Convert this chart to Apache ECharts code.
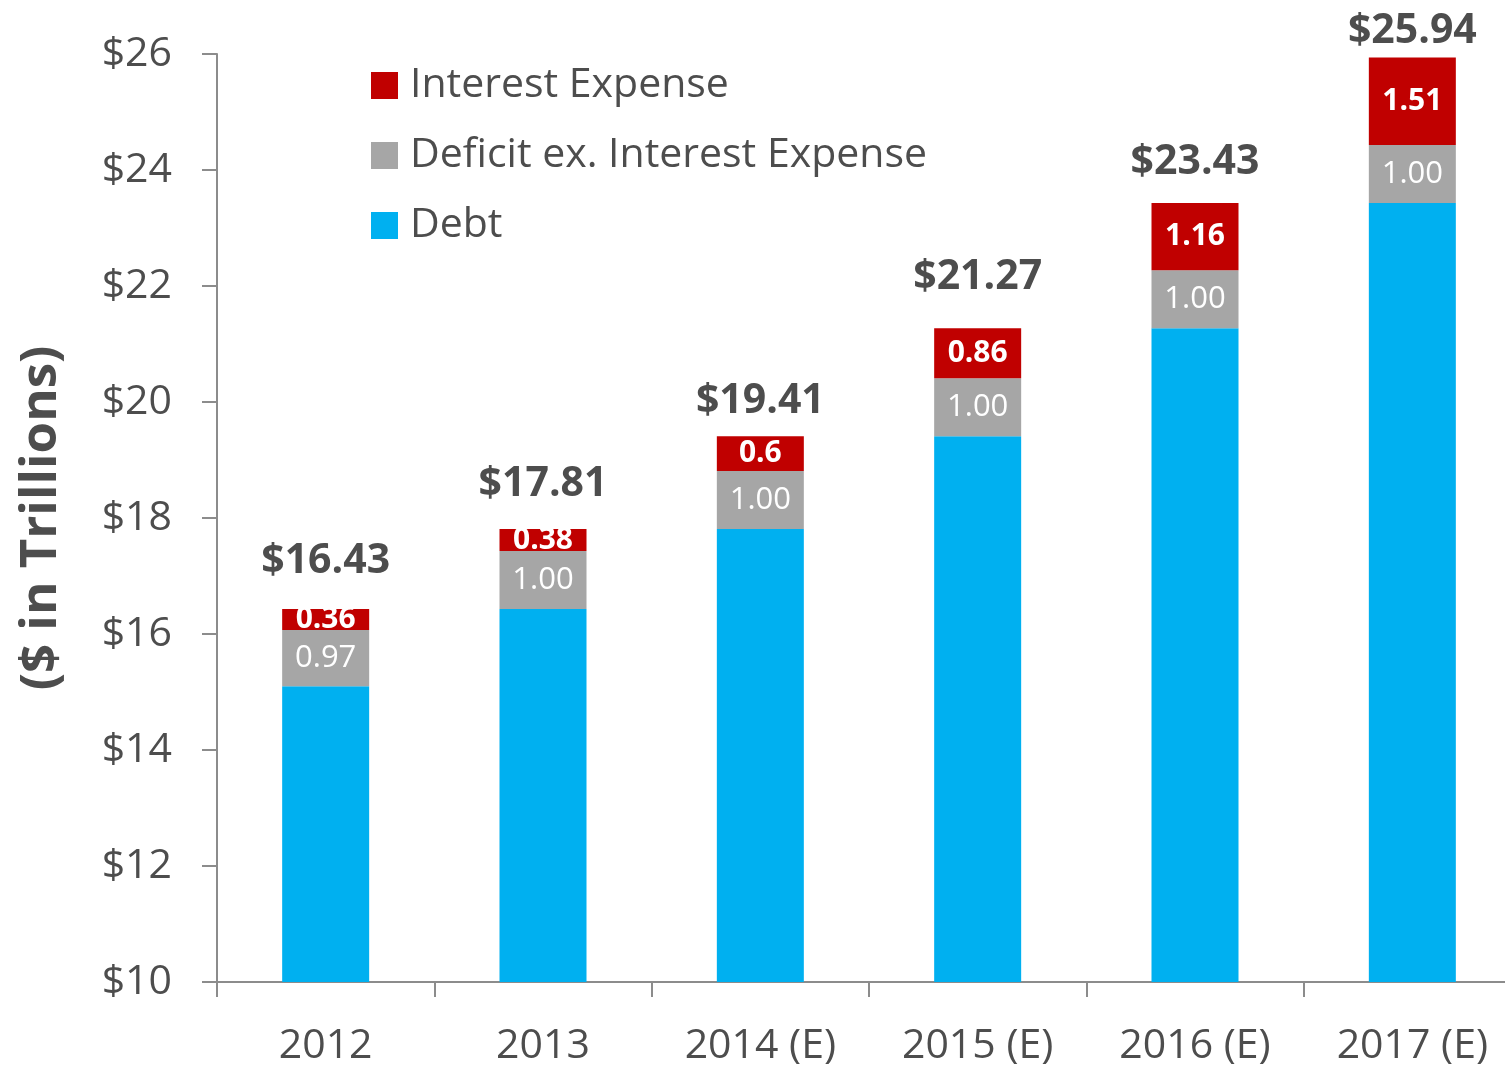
<!DOCTYPE html>
<html>
<head>
<meta charset="utf-8">
<script src="https://cdn.jsdelivr.net/npm/echarts@6/dist/echarts.min.js"></script>
<style>
html,body{margin:0;padding:0;background:#fff;}
#chart{width:1505px;height:1069px;}
</style>
</head>
<body>
<div id="chart"></div>
<script>
// ---- data ----
const categories = ['2012', '2013', '2014 (E)', '2015 (E)', '2016 (E)', '2017 (E)'];
const debt = [15.10, 16.43, 17.81, 19.41, 21.27, 23.43];
const deficitExInterest = [0.97, 1.00, 1.00, 1.00, 1.00, 1.00];
const interestExpense = [0.36, 0.38, 0.6, 0.86, 1.16, 1.51];
const totals = [16.43, 17.81, 19.41, 21.27, 23.43, 25.94];
const yTicks = [10, 12, 14, 16, 18, 20, 22, 24, 26];

// ---- styling (not data) ----
const totalLabelLift = [27, 24, 14, 31, 20, 6];
const FONT = '"Open Sans", sans-serif';
const TXT = '#4d4d4d';

const chart = echarts.init(document.getElementById('chart'));
chart.setOption({
  animation: false,
  grid: { left: 217, top: 54, bottom: 87, right: -16, containLabel: false, outerBoundsMode: 'none' },
  legend: {
    orient: 'vertical',
    left: 371,
    top: 65,
    padding: 0,
    itemWidth: 27,
    itemHeight: 27,
    itemGap: 29,
    icon: 'rect',
    data: ['Interest Expense', 'Deficit ex. Interest Expense', 'Debt'],
    textStyle: { fontFamily: FONT, fontSize: 41, color: TXT, lineHeight: 41, padding: [0, 0, 0, 7] }
  },
  xAxis: {
    type: 'category',
    data: categories,
    axisLine: { lineStyle: { color: '#8c8c8c', width: 2 } },
    axisTick: { show: true, length: 15, lineStyle: { color: '#8c8c8c', width: 2 } },
    axisLabel: { fontFamily: FONT, fontSize: 41, color: TXT, margin: 44 }
  },
  yAxis: {
    type: 'value',
    min: yTicks[0],
    max: yTicks[yTicks.length - 1],
    interval: 2,
    name: '($ in Trillions)',
    nameLocation: 'middle',
    nameGap: 150,
    nameTextStyle: { fontFamily: FONT, fontSize: 51, fontWeight: 'bold', color: TXT },
    splitLine: { show: false },
    axisLine: { show: true, lineStyle: { color: '#8c8c8c', width: 2 } },
    axisTick: { show: true, length: 15, lineStyle: { color: '#8c8c8c', width: 2 } },
    axisLabel: { fontFamily: FONT, fontSize: 41, color: TXT, margin: 45, formatter: v => '$' + v }
  },
  series: [
    {
      name: 'Debt', type: 'bar', stack: 'total', barWidth: 87,
      itemStyle: { color: '#00B0F0' },
      data: debt
    },
    {
      name: 'Deficit ex. Interest Expense', type: 'bar', stack: 'total', barWidth: 87,
      itemStyle: { color: '#A6A6A6' },
      label: { show: true, position: 'inside', fontFamily: FONT, fontSize: 31, color: '#fff',
               formatter: p => p.value.toFixed(2) },
      data: deficitExInterest
    },
    {
      name: 'Interest Expense', type: 'bar', stack: 'total', barWidth: 87,
      itemStyle: { color: '#C00000' },
      label: { show: true, position: 'inside', fontFamily: FONT, fontSize: 30, fontWeight: 'bold', color: '#fff',
               formatter: p => String(p.value) },
      data: interestExpense
    },
    {
      name: 'Total', type: 'bar', stack: 'total', barWidth: 87,
      itemStyle: { color: 'transparent' },
      silent: true,
      data: totals.map((t, i) => ({
        value: 0,
        label: { show: true, position: 'top', distance: totalLabelLift[i],
                 fontFamily: FONT, fontSize: 41, fontWeight: 'bold', color: TXT,
                 formatter: () => '$' + t.toFixed(2) }
      }))
    }
  ]
});
</script>
</body>
</html>
